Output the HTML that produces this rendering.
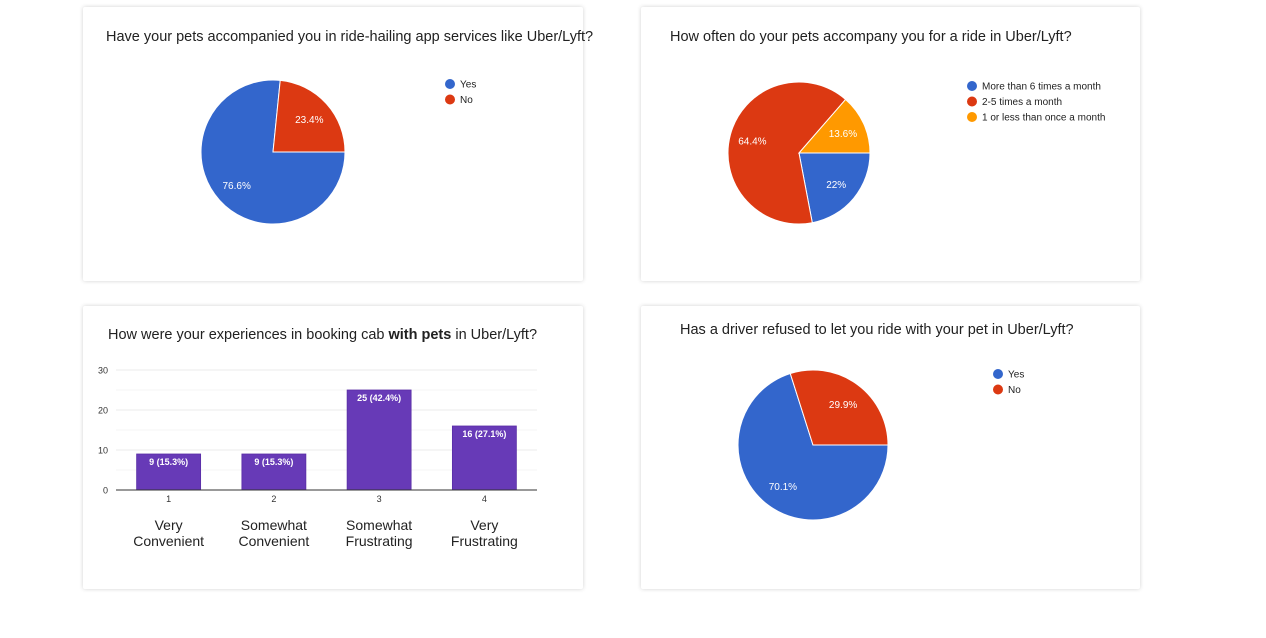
<!DOCTYPE html>
<html><head><meta charset="utf-8"><style>
body{margin:0;background:#fff;width:1266px;height:638px;overflow:hidden;font-family:"Liberation Sans",Arial,sans-serif;position:relative}
.card{position:absolute;background:#fff;box-shadow:0 0 4px rgba(0,0,0,0.18);border-radius:2px}
svg{position:absolute;left:0;top:0}
</style></head><body>
<div class="card" style="left:83px;top:7px;width:500px;height:274px"></div>
<div class="card" style="left:641px;top:7px;width:499px;height:274px"></div>
<div class="card" style="left:83px;top:306px;width:500px;height:283px"></div>
<div class="card" style="left:641px;top:306px;width:499px;height:283px"></div>
<svg id="s" width="1266" height="638">
<text x="106" y="41" font-size="14.5" fill="#212121">Have your pets accompanied you in ride-hailing app services like Uber/Lyft?</text>
<text x="670" y="41" font-size="14.5" fill="#212121">How often do your pets accompany you for a ride in Uber/Lyft?</text>
<text x="108" y="339" font-size="14.5" fill="#212121">How were your experiences in booking cab <tspan font-weight="bold">with pets</tspan> in Uber/Lyft?</text>
<text x="680" y="334" font-size="14.5" fill="#212121">Has a driver refused to let you ride with your pet in Uber/Lyft?</text>
</svg>
<script>
const pie1Labels=["Yes","No"];
const pie1Values=[76.6,23.4];
const pie2Labels=["More than 6 times a month","2-5 times a month","1 or less than once a month"];
const pie2Values=[22,64.4,13.6];
const pie4Labels=["Yes","No"];
const pie4Values=[70.1,29.9];
const barCategories=["1","2","3","4"];
const barNames=[["Very","Convenient"],["Somewhat","Convenient"],["Somewhat","Frustrating"],["Very","Frustrating"]];
const barValues=[9,9,25,16];
const barPercents=["15.3%","15.3%","42.4%","27.1%"];
const yTicks=[0,10,20,30];
const COLORS=["#3366cc","#dc3912","#ff9900"];
const NS="http://www.w3.org/2000/svg";
const svg=document.getElementById('s');
function mk(t,a,p){const e=document.createElementNS(NS,t);for(const k in a)e.setAttribute(k,a[k]);(p||svg).appendChild(e);return e;}
function pie(id,cx,cy,r,vals,labels,lx,ly){
  const tot=vals.reduce((a,b)=>a+b,0);
  let a0=Math.PI/2;
  vals.forEach((v,i)=>{
    const sw=v/tot*2*Math.PI,a1=a0+sw;
    const x0=cx+r*Math.sin(a0),y0=cy-r*Math.cos(a0),x1=cx+r*Math.sin(a1),y1=cy-r*Math.cos(a1);
    const p=mk('path',{d:`M${cx},${cy}L${x0},${y0}A${r},${r} 0 ${sw>Math.PI?1:0} 1 ${x1},${y1}Z`,fill:COLORS[i],stroke:'#fff','stroke-width':1});
    
    
    const m=(a0+a1)/2;
    const t=mk('text',{x:cx+0.68*r*Math.sin(m),y:cy-0.68*r*Math.cos(m)+4,'font-size':10,fill:'#fff','text-anchor':'middle'});
    t.textContent=(Math.round(v*10)/10)+'%';
    
    
    a0=a1;
    const c=mk('circle',{cx:lx,cy:ly+i*15.5,r:5,fill:COLORS[i]});
    
    
    const lt=mk('text',{x:lx+10,y:ly+i*15.5+3.5,'font-size':10,fill:'#222'});
    lt.textContent=labels[i];
    
    
  });
}
pie('pie1',273,152,72,pie1Values,pie1Labels,450,84);
pie('pie2',799,153,71,pie2Values,pie2Labels,972,86);
pie('pie4',813,445,75,pie4Values,pie4Labels,998,374);
// bar chart
const X0=116,X1=537,Y0=490,Y1=370,ymax=30;
const ys=v=>Y0-(v/ymax)*(Y0-Y1);
const bw=(X1-X0)/barValues.length;
[5,15,25].forEach(v=>{const l=mk('line',{x1:X0,x2:X1,y1:ys(v),y2:ys(v),stroke:'#f5f5f5'});});
yTicks.forEach(v=>{
  if(v>0){const l=mk('line',{x1:X0,x2:X1,y1:ys(v),y2:ys(v),stroke:'#ebebeb'});}
  const t=mk('text',{x:108,y:ys(v)+3.5,'font-size':9,fill:'#333','text-anchor':'end'});t.textContent=v;
  
});
barValues.forEach((v,i)=>{
  const cx=X0+bw*(i+0.5);
  const r=mk('rect',{x:cx-32,y:ys(v),width:64,height:Y0-ys(v),fill:'#673ab7',stroke:'#5a2ea6','stroke-width':0.8});
  
  const t=mk('text',{x:cx,y:ys(v)+11,'font-size':9,fill:'#fff','text-anchor':'middle','font-weight':'bold'});t.textContent=v+' ('+barPercents[i]+')';
  
  const k=mk('text',{x:cx,y:502,'font-size':9,fill:'#333','text-anchor':'middle'});k.textContent=barCategories[i];
  
  barNames[i].forEach((s,j)=>{const n=mk('text',{x:cx,y:530+j*16,'font-size':14,fill:'#222','text-anchor':'middle'});n.textContent=s;
    });
});
const ax=mk('line',{x1:X0,x2:X1,y1:Y0,y2:Y0,stroke:'#333'});

</script>
</body></html>
